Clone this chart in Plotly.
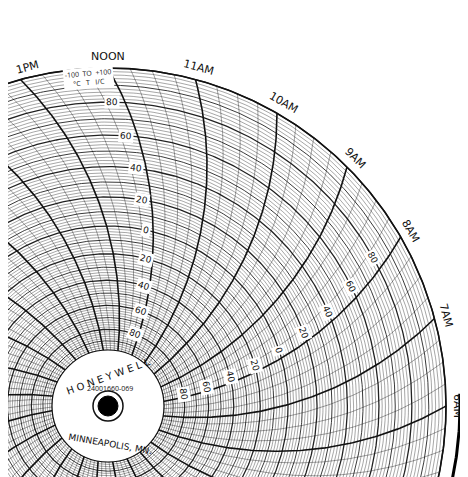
import numpy as np
import plotly.graph_objects as go

# ---- data ----
hour_labels = ["6AM","7AM","8AM","9AM","10AM","11AM","NOON","1PM","2PM","3PM","4PM","5PM","6PM"]
hour_angles = [0,15,30,45,60,75,90,105,120,135,150,165,180]   # degrees, 6AM at right
scale_values = [-100,-80,-60,-40,-20,0,20,40,60,80,100]
scale_labels = ["","80","60","40","20","0","20","40","60","80",""]
R_OUT = 338.0

def radius(v):
    return 180 + 1.42*v + 0.0016*v*v

fig = go.Figure()

def add_lines(xs, ys, width, color):
    fig.add_trace(go.Scatter(x=xs, y=ys, mode="lines", line=dict(width=width, color=color),
                             hoverinfo="skip", showlegend=False))

t = np.linspace(0, 2*np.pi, 600)
for width, sel in [(0.4, lambda v: v % 10 != 0), (0.9, lambda v: v % 10 == 0 and v % 20 != 0), (1.3, lambda v: v % 20 == 0)]:
    xs, ys = [], []
    for v in range(-100, 101, 2):
        if sel(v):
            r = radius(v)
            xs += list(r*np.cos(t)) + [None]
            ys += list(r*np.sin(t)) + [None]
    add_lines(xs, ys, width, "#222")

rr = np.linspace(radius(-100), R_OUT, 120)
def arc_angle(theta0, r):
    return np.radians(theta0) - (np.arccos(r/(2*R_OUT)) - np.pi/3)

def arc(theta0):
    th = arc_angle(theta0, rr)
    return list(rr*np.cos(th)) + [None], list(rr*np.sin(th)) + [None]

for width, cond in [(0.4, lambda k: k % 4 != 0), (1.6, lambda k: k % 4 == 0)]:
    xs, ys = [], []
    for k in range(96):
        if cond(k):
            a, b = arc(k*3.75)
            xs += a; ys += b
    add_lines(xs, ys, width, "#111")

add_lines(list(R_OUT*np.cos(t)), list(R_OUT*np.sin(t)), 1.6, "#111")
tt = np.radians(np.linspace(-12, 2, 40))
add_lines(list(352*np.cos(tt)), list(352*np.sin(tt)), 3, "#000")

fig.add_shape(type="circle", x0=-56, y0=-56, x1=56, y1=56, fillcolor="white", line=dict(color="#111", width=1.2))
fig.add_shape(type="circle", x0=-15, y0=-15, x1=15, y1=15, fillcolor="white", line=dict(color="#111", width=1.5))
fig.add_shape(type="circle", x0=-10, y0=-10, x1=10, y1=10, fillcolor="black", line=dict(color="black", width=1))

ann = []
for lab, a in zip(hour_labels, hour_angles):
    r = R_OUT + 12
    x = r*np.cos(np.radians(a)); y = r*np.sin(np.radians(a))
    if lab == "1PM":
        x += 10
    ann.append(dict(x=x, y=y, text=lab, showarrow=False,
                    textangle=90-a, font=dict(size=11, color="#111", family="DejaVu Sans")))
for base in [90, 30]:
    for v, lab in zip(scale_values, scale_labels):
        if not lab: continue
        r = radius(v)
        th = arc_angle(base, r) + np.radians(2.5)
        ann.append(dict(x=r*np.cos(th), y=r*np.sin(th), text=lab, showarrow=False,
                        textangle=90-np.degrees(th), bgcolor="white",
                        font=dict(size=9, color="#111", family="DejaVu Sans")))
ann.append(dict(x=0, y=30, text="H O N E Y W E L L", showarrow=False, textangle=-20,
                font=dict(size=10, color="#111", family="DejaVu Sans")))
ann.append(dict(x=2, y=18, text="24001660-069", showarrow=False, font=dict(size=7, color="#111")))
ann.append(dict(x=2, y=-38, text="MINNEAPOLIS, MN.", showarrow=False, textangle=10,
                font=dict(size=9, color="#111", family="DejaVu Sans")))
ann.append(dict(x=-20, y=328, text="-100  TO  +100<br>°C   T   I/C", showarrow=False, textangle=-5,
                font=dict(size=7, color="#111"), bgcolor="white"))

fig.update_layout(width=468, height=477, margin=dict(l=0, r=0, t=0, b=0),
                  paper_bgcolor="white", plot_bgcolor="white", annotations=ann,
                  xaxis=dict(range=[-100, 368], visible=False, fixedrange=True),
                  yaxis=dict(range=[-79, 398], visible=False, scaleanchor="x", fixedrange=True))
fig.write_html("out.html")
